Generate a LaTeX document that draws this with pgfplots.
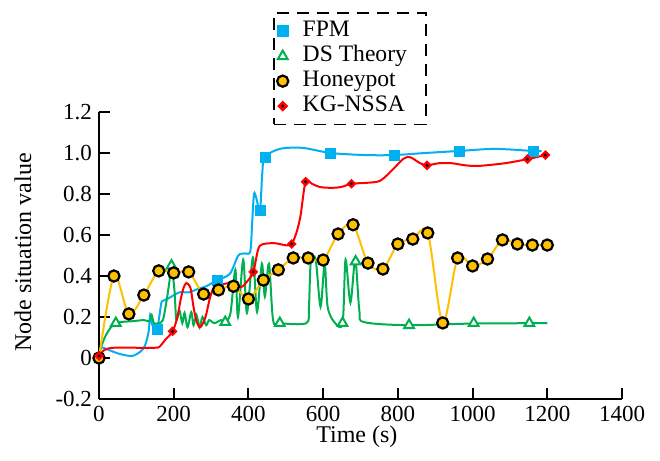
\documentclass[border=0pt]{standalone}
\usepackage{fontspec}
\setmainfont{Liberation Serif}
\usepackage{pgfplots}
\pgfplotsset{compat=1.18}
\definecolor{fpm}{HTML}{00B0F0}
\definecolor{dst}{HTML}{00B050}
\definecolor{hp}{HTML}{FFC000}
\definecolor{kg}{HTML}{FF0000}

% red diamond with a black dot in it
\pgfdeclareplotmark{diadot}{%
  \pgfpathmoveto{\pgfqpoint{0pt}{\pgfplotmarksize}}%
  \pgfpathlineto{\pgfqpoint{\pgfplotmarksize}{0pt}}%
  \pgfpathlineto{\pgfqpoint{0pt}{-\pgfplotmarksize}}%
  \pgfpathlineto{\pgfqpoint{-\pgfplotmarksize}{0pt}}%
  \pgfpathclose
  \pgfsetfillcolor{kg}\pgfsetstrokecolor{kg}%
  \pgfusepathqfillstroke
  \pgfpathcircle{\pgfpointorigin}{0.35\pgfplotmarksize}%
  \pgfsetfillcolor{black}%
  \pgfusepathqfill
}

\begin{document}
\begin{tikzpicture}
\begin{axis}[
  scale only axis, width=261.5bp, height=143.5bp,
  xmin=0, xmax=1400, ymin=-0.2, ymax=1.2,
  clip=false,
  axis x line*=bottom, axis y line*=left,
  axis line style={-, line width=1bp},
  xtick={0,200,400,600,800,1000,1200,1400},
  xticklabels={0,200,400,600,800,1000,1200,1400},
  ytick={-0.2,0,0.2,0.4,0.6,0.8,1.0,1.2},
  yticklabels={-0.2,0,0.2,0.4,0.6,0.8,1.0,1.2},
  tick align=inside, major tick length=5.5bp,
  tick style={line width=1bp, black},
  ticklabel style={font=\fontsize{11.5bp}{13bp}\selectfont},
  xlabel={Time (s)}, ylabel={Node situation value},
  label style={font=\fontsize{12bp}{14bp}\selectfont},
  xlabel style={at={(axis description cs:0.493,-0.1324)}, anchor=center},
  ylabel style={at={(axis description cs:-0.1453,0.51)}, anchor=center},
  legend image code/.code={\draw[#1] plot coordinates {(0bp,0bp)}; \path[draw=none] (0bp,0bp) (9bp,0bp);},
  legend style={at={(0.48,1.348)}, anchor=north, draw=black, line width=0.8bp,
    dash pattern=on 6bp off 4bp, inner xsep=1.5bp, inner ysep=3.2bp,
    font=\fontsize{11.8bp}{14bp}\selectfont, row sep=0.5bp,
    nodes={inner sep=1bp, text depth=0.25em, text height=0.75em}},
  legend cell align=left,
]

% lines
\addplot[fpm, line width=1bp, smooth, no marks, forget plot] coordinates {
(0,0.0) (5,0.05) (25,0.04) (55,0.02) (88,0.01) (110,0.03) (123,0.06) (133,0.13)
(137,0.21) (143,0.16) (155,0.14) (162,0.21) (167,0.27) (172,0.28) (185,0.29)
(215,0.32) (240,0.32) (262,0.335) (287,0.35) (316,0.38) (350,0.41) (373,0.50)
(391,0.51) (405,0.52) (410,0.66) (415,0.80) (421,0.78) (431,0.72) (437,0.90)
(444,0.98) (484,1.02) (545,1.025) (620,1.0) (713,0.99) (790,0.99) (873,1.0)
(965,1.01) (1059,1.02) (1163,1.01) (1185,1.01)
};
\addplot[dst, line width=1bp, smooth, no marks, forget plot] coordinates {
(0,0.0) (5,0.05) (21,0.12) (45,0.17) (93,0.18) (120,0.185) (135,0.18) (141,0.21)
(147,0.17) (160,0.17) (171,0.185) (181,0.28) (189,0.38) (194,0.45) (202,0.33)
(207,0.185) (215,0.234) (223,0.17) (229,0.22) (237,0.15) (247,0.224) (253,0.16)
(261,0.21) (269,0.15) (277,0.20) (287,0.16) (295,0.185) (309,0.17) (327,0.185)
(338,0.175) (352,0.22) (365,0.43) (372,0.20) (386,0.48) (396,0.22) (412,0.49)
(423,0.225) (436,0.46) (444,0.30) (455,0.46) (466,0.185) (484,0.17) (555,0.17)
(562,0.25) (567,0.47) (580,0.48) (593,0.25) (604,0.46) (612,0.25) (630,0.175)
(652,0.17) (660,0.48) (673,0.27) (686,0.48) (697,0.23) (710,0.175) (830,0.16)
(1000,0.168) (1200,0.17)
};
\addplot[hp, line width=1bp, smooth, no marks, forget plot] coordinates {
(0,0.0) (40,0.40) (80,0.215) (120,0.307) (160,0.425) (200,0.415) (240,0.42)
(280,0.312) (320,0.332) (360,0.35) (400,0.288) (440,0.38) (480,0.43) (520,0.488)
(560,0.488) (600,0.478) (640,0.605) (680,0.65) (720,0.463) (760,0.434) (800,0.556)
(840,0.58) (880,0.61) (920,0.171) (960,0.488) (1000,0.449) (1040,0.483) (1080,0.576)
(1120,0.556) (1160,0.551) (1200,0.551)
};
\addplot[kg, line width=1bp, smooth, no marks, forget plot] coordinates {
(0,0.01) (15,0.04) (40,0.05) (100,0.05) (150,0.05) (162,0.055) (178,0.09) (197,0.13)
(210,0.20) (218,0.28) (226,0.34) (234,0.366) (245,0.34) (253,0.25) (261,0.18)
(271,0.15) (285,0.20) (298,0.30) (310,0.35) (330,0.36) (359,0.366) (380,0.345)
(395,0.37) (413,0.42) (426,0.53) (438,0.555) (470,0.56) (500,0.55) (516,0.556)
(530,0.62) (540,0.70) (553,0.86) (570,0.85) (591,0.834) (625,0.83) (650,0.835)
(676,0.85) (720,0.855) (753,0.865) (785,0.917) (815,0.972) (832,0.98) (847,0.965)
(860,0.95) (878,0.94) (910,0.95) (945,0.95) (980,0.94) (1016,0.937) (1086,0.95)
(1147,0.97) (1195,0.99)
};

% markers
\addplot[only marks, mark=square*, mark size=2.5bp,
  mark options={solid, fill=fpm, draw=fpm}] coordinates {
(155,0.14) (316,0.38) (431,0.72) (445,0.98) (620,1.0) (790,0.99) (965,1.01) (1163,1.01)
};
\addplot[only marks, mark=triangle*, mark size=2.8bp,
  mark options={solid, fill=white, draw=dst, line width=1bp}] coordinates {
(45,0.17) (194,0.45) (338,0.175) (484,0.17) (652,0.17) (687,0.47) (830,0.16)
(1003,0.17) (1152,0.17)
};
\addplot[only marks, mark=*, mark size=2.8bp,
  mark options={solid, fill=hp, draw=black, line width=1.1bp}] coordinates {
(0,0.0) (40,0.40) (80,0.215) (120,0.307) (160,0.425) (200,0.415) (240,0.42)
(280,0.312) (320,0.332) (360,0.35) (400,0.288) (440,0.38) (480,0.43) (520,0.488)
(560,0.488) (600,0.478) (640,0.605) (680,0.65) (720,0.463) (760,0.434) (800,0.556)
(840,0.58) (880,0.61) (920,0.171) (960,0.488) (1000,0.449) (1040,0.483) (1080,0.576)
(1120,0.556) (1160,0.551) (1200,0.551)
};
\addplot[only marks, mark=diadot, mark size=2.2bp, mark options={solid}] coordinates {
(0,0.01) (197,0.13) (413,0.42) (516,0.556) (553,0.86) (676,0.85) (878,0.94)
(1147,0.97) (1195,0.99)
};

\legend{FPM, DS Theory\hspace*{7bp}, Honeypot, KG-NSSA}

\coordinate (bl) at (rel axis cs:0,0);
\coordinate (tr) at (rel axis cs:1,1);
\end{axis}
\path (bl) ++(-49.5bp,-31bp);
\path (tr) ++(19bp,56bp);
\end{tikzpicture}
\end{document}
